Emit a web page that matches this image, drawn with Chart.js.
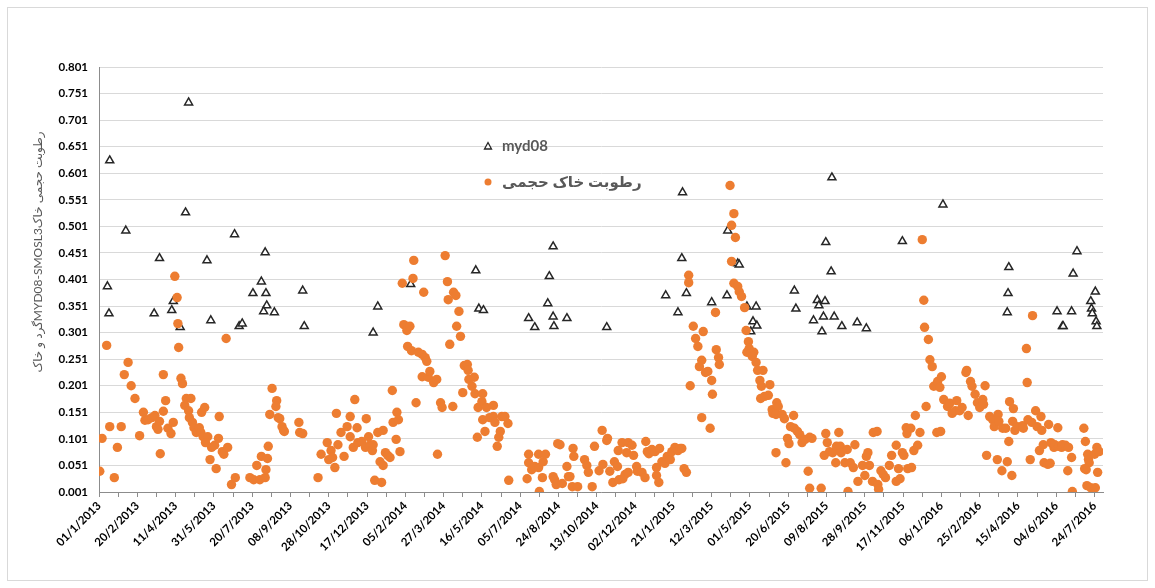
<!DOCTYPE html>
<html>
<head>
<meta charset="utf-8">
<script src="https://cdn.jsdelivr.net/npm/chart.js@4.4.0/dist/chart.umd.min.js"></script>
<style>
  html, body { margin: 0; padding: 0; background: #fff; }
  #wrap { width: 1155px; height: 588px; }
</style>
</head>
<body>
<div id="wrap"><canvas id="chart" width="1155" height="588"></canvas></div>
<script>
// x values are days counted from 01/1/2013
var tickLabels = [
  "01/1/2013", "20/2/2013", "11/4/2013", "31/5/2013", "20/7/2013", "08/9/2013",
  "28/10/2013", "17/12/2013", "05/2/2014", "27/3/2014", "16/5/2014", "05/7/2014",
  "24/8/2014", "13/10/2014", "02/12/2014", "21/1/2015", "12/3/2015", "01/5/2015",
  "20/6/2015", "09/8/2015", "28/9/2015", "17/11/2015", "06/1/2016", "25/2/2016",
  "15/4/2016", "04/6/2016", "24/7/2016"
];

var myd08Day = [
  117, 14, 113, 35, 177, 217, 79, 141, 11, 212, 201, 218, 266, 97, 219, 13, 72, 95, 229, 215,
  146, 106, 183, 187, 268, 593, 492, 407, 364, 358, 496, 502, 588, 586, 561, 569, 593, 594, 611,
  762, 761, 767, 740, 756, 800, 663, 957, 821, 949, 956, 834, 836, 908, 820, 846, 858, 910, 938,
  940, 948, 854, 859, 851, 933, 946, 960, 944, 970, 1102, 1049, 990, 1002, 1188, 1187, 1186, 1251,
  1270, 1258, 1259, 1277, 1272, 1295, 1296, 1297, 1301, 1302, 1303
];
var myd08Value = [
  0.734, 0.625, 0.527, 0.493, 0.486, 0.452, 0.441, 0.437, 0.388, 0.397, 0.375, 0.375, 0.380, 0.360, 0.352, 0.337, 0.337, 0.343, 0.339, 0.341,
  0.324, 0.311, 0.313, 0.318, 0.313, 0.463, 0.418, 0.392, 0.350, 0.301, 0.346, 0.343, 0.407, 0.356, 0.328, 0.311, 0.331, 0.313, 0.328,
  0.565, 0.441, 0.375, 0.371, 0.339, 0.358, 0.311, 0.593, 0.493, 0.471, 0.416, 0.431, 0.429, 0.380, 0.371, 0.350, 0.350, 0.346, 0.362,
  0.352, 0.360, 0.322, 0.314, 0.303, 0.324, 0.331, 0.331, 0.303, 0.313, 0.542, 0.473, 0.320, 0.309, 0.424, 0.375, 0.339, 0.341,
  0.341, 0.313, 0.313, 0.454, 0.412, 0.360, 0.346, 0.337, 0.378, 0.322, 0.313
];

var soilDay = [
  1, 4, 10, 14, 20, 24, 29, 33, 38, 42, 47, 53, 58, 60, 64, 69, 73, 75, 77, 79,
  80, 84, 84, 87, 90, 94, 97, 99, 102, 103, 104, 107, 109, 112, 114, 117, 120, 118, 122, 124,
  127, 131, 133, 134, 138, 136, 142, 139, 147, 151, 145, 153, 156, 157, 161, 163, 168, 166, 173, 178,
  197, 202, 206, 210, 212, 217, 218, 220, 221, 223, 226, 232, 231, 234, 236, 239, 241, 242, 261, 262,
  266, 286, 290, 298, 303, 300, 305, 308, 310, 312, 316, 320, 324, 328, 328, 332, 334, 337, 338, 343,
  348, 349, 352, 354, 357, 358, 360, 364, 367, 369, 371, 371, 374, 377, 380, 383, 384, 388, 389, 391,
  393, 396, 398, 402, 406, 403, 408, 410, 411, 414, 417, 422, 424, 426, 428, 422, 430, 432, 437, 441,
  442, 446, 448, 452, 455, 456, 458, 462, 463, 466, 470, 467, 472, 475, 477, 481, 482, 483, 487, 490,
  491, 494, 495, 500, 501, 501, 504, 506, 510, 515, 515, 517, 520, 522, 524, 526, 530, 534, 535, 559,
  561, 561, 565, 569, 574, 574, 575, 579, 580, 583, 593, 595, 597, 599, 602, 605, 611, 613, 615, 618,
  619, 620, 625, 634, 637, 639, 644, 647, 653, 658, 657, 663, 664, 667, 671, 673, 677, 678, 679, 683,
  684, 687, 689, 691, 691, 696, 698, 702, 703, 709, 713, 714, 716, 718, 722, 726, 728, 728, 731, 732,
  735, 739, 742, 746, 748, 752, 756, 759, 761, 764, 767, 770, 770, 772, 776, 779, 782, 784, 787, 787,
  789, 792, 795, 798, 800, 801, 805, 806, 809, 810, 824, 829, 826, 831, 826, 829, 834, 836, 839, 843,
  845, 848, 849, 846, 851, 855, 853, 858, 860, 867, 863, 865, 876, 869, 864, 874, 879, 880, 885, 887,
  884, 892, 895, 907, 903, 908, 912, 915, 899, 901, 918, 922, 928, 931, 884, 897, 926, 928, 943, 949,
  951, 947, 954, 958, 962, 963, 966, 968, 969, 974, 977, 978, 981, 985, 987, 991, 997, 1000, 1002, 1004,
  1006, 1010, 1011, 1016, 1017, 1018, 1021, 1024, 1027, 1032, 1035, 1041, 1041, 1044, 1046, 1049, 1051, 1054, 1055, 1056,
  1060, 1061, 1064, 1066, 1069, 1072, 1075, 1077, 1078, 1083, 1085, 1088, 1080, 1090, 1094, 1095, 1098, 1100, 1099, 1103,
  1108, 1111, 1114, 1118, 1120, 1124, 1127, 1132, 1133, 1135, 1138, 1140, 1144, 1147, 1150, 1154, 1157, 1155, 1159, 1163,
  1167, 1169, 1173, 1174, 1175, 1179, 1180, 1184, 1186, 1188, 1189, 1192, 1193, 1194, 1196, 1199, 1206, 1207, 1211, 1212,
  1213, 1216, 1219, 1218, 1223, 1225, 1228, 1230, 1231, 1233, 1234, 1239, 1240, 1242, 1243, 1247, 1248, 1252, 1253, 1257,
  1258, 1262, 1265, 1266, 1270, 1271, 1286, 1288, 1291, 1292, 1293, 1289, 1287, 1290, 1295, 1300, 1301, 1303, 1304, 1306
];
var soilValue = [
  0.040, 0.102, 0.277, 0.124, 0.028, 0.085, 0.124, 0.222, 0.245, 0.201, 0.177, 0.107, 0.151, 0.136, 0.137, 0.141, 0.145, 0.124, 0.119, 0.134,
  0.073, 0.222, 0.153, 0.173, 0.121, 0.111, 0.132, 0.407, 0.367, 0.318, 0.273, 0.215, 0.205, 0.164, 0.177, 0.154, 0.177, 0.141, 0.132, 0.122,
  0.113, 0.122, 0.113, 0.151, 0.160, 0.105, 0.105, 0.094, 0.085, 0.089, 0.062, 0.045, 0.102, 0.143, 0.077, 0.072, 0.085, 0.290, 0.015, 0.028,
  0.028, 0.024, 0.051, 0.024, 0.068, 0.028, 0.043, 0.064, 0.087, 0.147, 0.196, 0.173, 0.162, 0.141, 0.139, 0.124, 0.117, 0.115, 0.132, 0.113,
  0.111, 0.028, 0.072, 0.094, 0.079, 0.062, 0.066, 0.047, 0.149, 0.090, 0.113, 0.068, 0.124, 0.143, 0.105, 0.085, 0.175, 0.122, 0.094, 0.096,
  0.085, 0.139, 0.105, 0.090, 0.079, 0.090, 0.023, 0.113, 0.058, 0.019, 0.117, 0.051, 0.075, 0.070, 0.066, 0.192, 0.132, 0.100, 0.151, 0.137,
  0.077, 0.394, 0.316, 0.305, 0.313, 0.275, 0.267, 0.403, 0.437, 0.169, 0.264, 0.260, 0.377, 0.254, 0.247, 0.218, 0.217, 0.228, 0.207, 0.213,
  0.072, 0.169, 0.160, 0.446, 0.397, 0.363, 0.279, 0.162, 0.377, 0.371, 0.341, 0.313, 0.294, 0.188, 0.239, 0.241, 0.230, 0.213, 0.200, 0.217,
  0.186, 0.104, 0.160, 0.171, 0.186, 0.137, 0.115, 0.160, 0.141, 0.164, 0.143, 0.132, 0.087, 0.104, 0.115, 0.143, 0.143, 0.130, 0.023, 0.026,
  0.072, 0.056, 0.043, 0.049, 0.047, 0.072, 0.002, 0.028, 0.058, 0.072, 0.030, 0.024, 0.015, 0.092, 0.090, 0.017, 0.049, 0.030, 0.030, 0.011,
  0.083, 0.068, 0.011, 0.062, 0.051, 0.038, 0.011, 0.087, 0.041, 0.053, 0.117, 0.098, 0.102, 0.040, 0.019, 0.058, 0.049, 0.079, 0.024, 0.094,
  0.026, 0.034, 0.075, 0.038, 0.094, 0.089, 0.070, 0.049, 0.040, 0.038, 0.028, 0.096, 0.077, 0.073, 0.081, 0.077, 0.047, 0.032, 0.019, 0.083,
  0.058, 0.055, 0.068, 0.062, 0.077, 0.085, 0.079, 0.083, 0.083, 0.045, 0.038, 0.409, 0.395, 0.201, 0.313, 0.290, 0.275, 0.237, 0.249, 0.141,
  0.303, 0.226, 0.228, 0.121, 0.211, 0.185, 0.339, 0.269, 0.254, 0.241, 0.578, 0.525, 0.503, 0.480, 0.435, 0.394, 0.388, 0.378, 0.369, 0.348,
  0.305, 0.284, 0.271, 0.264, 0.262, 0.264, 0.256, 0.245, 0.230, 0.230, 0.211, 0.200, 0.203, 0.181, 0.177, 0.183, 0.156, 0.149, 0.169, 0.162,
  0.147, 0.147, 0.139, 0.145, 0.124, 0.121, 0.115, 0.109, 0.102, 0.092, 0.094, 0.100, 0.104, 0.102, 0.075, 0.056, 0.040, 0.008, 0.008, 0.111,
  0.094, 0.070, 0.077, 0.075, 0.056, 0.087, 0.113, 0.087, 0.075, 0.056, 0.081, 0.002, 0.056, 0.047, 0.090, 0.021, 0.051, 0.032, 0.068, 0.075,
  0.051, 0.021, 0.113, 0.115, 0.015, 0.006, 0.041, 0.034, 0.028, 0.051, 0.070, 0.089, 0.021, 0.045, 0.026, 0.075, 0.070, 0.122, 0.111, 0.045,
  0.121, 0.047, 0.079, 0.145, 0.089, 0.113, 0.476, 0.362, 0.311, 0.288, 0.250, 0.237, 0.162, 0.200, 0.113, 0.209, 0.198, 0.218, 0.115, 0.175,
  0.162, 0.168, 0.149, 0.154, 0.173, 0.154, 0.160, 0.226, 0.230, 0.145, 0.209, 0.200, 0.185, 0.169, 0.160, 0.175, 0.201, 0.166, 0.070, 0.143,
  0.137, 0.124, 0.062, 0.147, 0.134, 0.041, 0.121, 0.121, 0.058, 0.096, 0.171, 0.032, 0.134, 0.158, 0.117, 0.124, 0.126, 0.121, 0.271, 0.207,
  0.137, 0.062, 0.333, 0.132, 0.154, 0.124, 0.079, 0.143, 0.117, 0.090, 0.056, 0.053, 0.128, 0.055, 0.094, 0.085, 0.090, 0.122, 0.087, 0.085,
  0.090, 0.089, 0.041, 0.085, 0.066, 0.002, 0.121, 0.096, 0.072, 0.062, 0.056, 0.043, 0.045, 0.013, 0.009, 0.072, 0.009, 0.085, 0.038, 0.077
];

var yTitle = "گرد و خاکMYD08-SMOSL3رطوبت حجمی خاک";
var fontFamily = 'Lato, "DejaVu Sans", sans-serif';

function toPoints(days, values) {
  var pts = [];
  for (var i = 0; i < days.length; i++) {
    pts.push({ x: days[i], y: values[i] });
  }
  return pts;
}

// Frame, legend and rotated y title
var decorations = {
  id: "decorations",
  beforeDraw: function (chart) {
    var ctx = chart.ctx;
    ctx.save();
    ctx.fillStyle = "#fff";
    ctx.fillRect(0, 0, chart.width, chart.height);
    ctx.strokeStyle = "#d9d9d9";
    ctx.lineWidth = 1;
    ctx.strokeRect(7.5, 7.5, 1140, 573);
    ctx.restore();
  },
  afterDraw: function (chart) {
    var ctx = chart.ctx;
    var sets = chart.data.datasets;

    ctx.save();
    ctx.translate(38, 252);
    ctx.rotate(-Math.PI / 2);
    ctx.fillStyle = "#595959";
    ctx.font = "12px " + fontFamily;
    ctx.textAlign = "center";
    ctx.textBaseline = "middle";
    ctx.fillText(yTitle, 0, 0);
    ctx.restore();

    ctx.save();
    ctx.font = "bold 15px " + fontFamily;
    ctx.textBaseline = "middle";
    ctx.textAlign = "left";
    // myd08 entry
    var tri = sets[1];
    ctx.beginPath();
    ctx.moveTo(488, 142.5);
    ctx.lineTo(491.5, 149);
    ctx.lineTo(484.5, 149);
    ctx.closePath();
    ctx.fillStyle = tri.pointBackgroundColor;
    ctx.fill();
    ctx.strokeStyle = tri.pointBorderColor;
    ctx.lineWidth = 1.3;
    ctx.stroke();
    ctx.fillStyle = "#595959";
    ctx.fillText(tri.label, 502, 146);
    // soil moisture entry
    var dot = sets[0];
    ctx.beginPath();
    ctx.arc(488, 182, 3.5, 0, Math.PI * 2);
    ctx.fillStyle = dot.pointBackgroundColor;
    ctx.fill();
    ctx.fillStyle = "#595959";
    ctx.fillText(dot.label, 502, 182);
    ctx.restore();
  }
};

var ctx = document.getElementById("chart").getContext("2d");
var myChart = new Chart(ctx, {
  type: "scatter",
  plugins: [decorations],
  data: {
    datasets: [
      {
        label: "رطوبت خاک حجمی",
        data: toPoints(soilDay, soilValue),
        pointStyle: "circle",
        pointRadius: 4.7,
        pointBackgroundColor: "#ED7D31",
        pointBorderColor: "#ED7D31",
        pointBorderWidth: 0,
        order: 1
      },
      {
        label: "myd08",
        data: toPoints(myd08Day, myd08Value),
        pointStyle: "triangle",
        pointRadius: 4.6,
        pointBackgroundColor: "#ffffff",
        pointBorderColor: "#262626",
        pointBorderWidth: 1.5,
        order: 2
      }
    ]
  },
  options: {
    responsive: false,
    animation: false,
    devicePixelRatio: 1,
    layout: { padding: { top: 67, right: 52, left: 0, bottom: 0 } },
    plugins: {
      legend: { display: false },
      tooltip: { enabled: false }
    },
    scales: {
      x: {
        type: "linear",
        min: 0,
        max: 1311,
        afterBuildTicks: function (scale) {
          var t = [];
          for (var d = 0; d <= 1300; d += 25) t.push({ value: d });
          scale.ticks = t;
        },
        afterFit: function (scale) {
          scale.height = 96;
        },
        grid: {
          drawOnChartArea: false,
          drawTicks: true,
          tickLength: 5,
          color: "#8c8c8c"
        },
        border: { color: "#8c8c8c", width: 1 },
        ticks: {
          autoSkip: false,
          minRotation: 45,
          maxRotation: 45,
          padding: 2,
          color: "#000",
          font: { family: fontFamily, size: 11.5, weight: "bold" },
          callback: function (value) {
            return value % 50 === 0 ? tickLabels[value / 50] : "";
          }
        }
      },
      y: {
        min: 0.001,
        max: 0.801,
        afterBuildTicks: function (scale) {
          var t = [];
          for (var i = 0; i <= 16; i++) t.push({ value: +(0.001 + 0.05 * i).toFixed(3) });
          scale.ticks = t;
        },
        afterFit: function (scale) {
          scale.width = 99;
        },
        grid: {
          drawTicks: false,
          color: "#d9d9d9"
        },
        border: { color: "#8c8c8c", width: 1 },
        ticks: {
          padding: 11,
          color: "#000",
          font: { family: fontFamily, size: 11.5, weight: "bold" },
          callback: function (value) {
            return value.toFixed(3);
          }
        }
      }
    }
  }
});
</script>
</body>
</html>
